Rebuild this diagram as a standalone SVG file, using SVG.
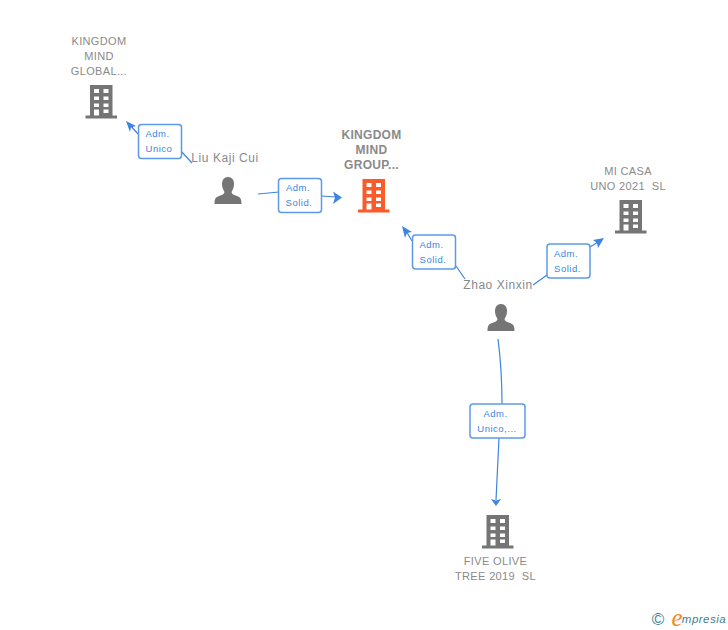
<svg xmlns="http://www.w3.org/2000/svg" width="728" height="630" viewBox="0 0 728 630">
<style>
text{font-family:"Liberation Sans",Arial,sans-serif;text-anchor:middle}
.n{font-size:11px;fill:#8a8a8a;letter-spacing:.35px}
.b{font-weight:bold;font-size:12px;letter-spacing:.3px}
.p{font-size:12px;fill:#8a8a8a;letter-spacing:.55px}
.e{fill:none;stroke:#3d85e0;stroke-width:1.2}
.a{fill:#3d85e0}
.l{fill:#fff;stroke:#5c9ae8;stroke-width:1.5}
.t{font-size:9.5px;fill:#3d85e0;letter-spacing:.5px}
</style>
<defs>
<symbol id="bld" viewBox="0 0 32 34" overflow="visible">
<path fill-rule="evenodd" d="M4.500 0H27V30.500H31.500V33.500H0V30.500H4.500ZM8.500 4V8H13.500V4ZM18 4V8H23V4ZM8.500 11.500V15H13.500V11.500ZM18 11.500V15H23V11.500ZM8.500 18.500V22H13.500V18.500ZM18 18.500V22H23V18.500ZM8.500 24.500V30.500H13.500V24.500ZM18 24.500V28H23V24.500Z"/>
</symbol>
<symbol id="per" viewBox="0 0 28 27" overflow="visible">
<path d="M14 0C18 0 20 3 20 7C20 11 18.500 13 17.500 15C17.500 17 20 18 23 19C26 20 27.500 21.500 27.500 27H0.500C0.500 21.500 2 20 5 19C8 18 10.500 17 10.500 15C9.500 13 8 11 8 7C8 3 10 0 14 0Z"/>
</symbol>
</defs>
<g id="connectors">
<path class="e" d="M192 163L180 150M138 134L129 124"/>
<path class="a" d="M126 121L136 126L131 127.500L130 132Z"/>
<path class="e" d="M258 194L279 192M322 196L336 197"/>
<path class="a" d="M342 197.500L333 191.500L335 197.500L333 204Z"/>
<path class="e" d="M465 279L456 266M412 241L405 229"/>
<path class="a" d="M402 226L412 232L407 233L405 238Z"/>
<path class="e" d="M533 285L547 275M590 247L600 241"/>
<path class="a" d="M604 238L593 240L597 243L598 248Z"/>
<path class="e" d="M498 339Q502 370 502 404M499 438L496 500"/>
<path class="a" d="M496 506L491 499L496 500.500L501 499Z"/>
</g>
<g id="kingdom-mind-global">
<text class="n" x="99" y="45">KINGDOM</text><text class="n" x="99" y="60">MIND</text><text class="n" x="99" y="75">GLOBAL...</text>
<use href="#bld" x="85.500" y="85" width="32" height="34" fill="#757575"/>
</g>
<g id="liu-kaji-cui">
<text class="p" x="225" y="162">Liu Kaji Cui</text>
<use href="#per" x="214" y="177" width="28" height="27" fill="#757575"/>
</g>
<g id="kingdom-mind-group">
<text class="n b" x="371.500" y="139">KINGDOM</text><text class="n b" x="371.500" y="154">MIND</text><text class="n b" x="371.500" y="169">GROUP...</text>
<use href="#bld" x="358" y="179" width="32" height="34" fill="#fb5a2b"/>
</g>
<g id="mi-casa-uno">
<text class="n" x="628" y="175">MI CASA</text><text class="n" x="628" y="190" xml:space="preserve">UNO 2021  SL</text>
<use href="#bld" x="615" y="200" width="32" height="34" fill="#757575"/>
</g>
<g id="zhao-xinxin">
<text class="p" x="498" y="289">Zhao Xinxin</text>
<use href="#per" x="487" y="304" width="28" height="27" fill="#757575"/>
</g>
<g id="five-olive-tree">
<text class="n" x="495.500" y="565">FIVE OLIVE</text><text class="n" x="495.500" y="580" xml:space="preserve">TREE 2019  SL</text>
<use href="#bld" x="482" y="515" width="32" height="34" fill="#757575"/>
</g>
<g id="label-adm-unico">
<rect class="l" x="138.500" y="124.500" width="43" height="34" rx="3"/>
<text class="t" x="157.500" y="137">Adm.</text><text class="t" x="159" y="152">Unico</text>
</g>
<g id="label-adm-solid-1">
<rect class="l" x="278.500" y="178.500" width="43" height="34" rx="3"/>
<text class="t" x="298" y="191">Adm.</text><text class="t" x="299" y="206">Solid.</text>
</g>
<g id="label-adm-solid-2">
<rect class="l" x="412.500" y="235" width="43" height="34" rx="3"/>
<text class="t" x="431.500" y="248">Adm.</text><text class="t" x="433" y="263">Solid.</text>
</g>
<g id="label-adm-solid-3">
<rect class="l" x="547" y="244" width="43" height="34" rx="3"/>
<text class="t" x="566" y="257">Adm.</text><text class="t" x="567.500" y="272">Solid.</text>
</g>
<g id="label-adm-unico-2">
<rect class="l" x="470" y="404" width="55" height="34" rx="3"/>
<text class="t" x="495.500" y="417">Adm.</text><text class="t" x="497" y="432">Unico,...</text>
</g>
<g id="logo">
<text x="658" y="625" font-size="17" fill="#3f7f96">©</text>
<text x="677" y="626" font-size="25" font-style="italic" fill="#f08a1d" style="font-family:'Liberation Serif',serif">e</text>
<text x="704" y="623" font-size="11.500" font-style="italic" fill="#3f7f96" letter-spacing=".5">mpresia</text>
</g>
</svg>
